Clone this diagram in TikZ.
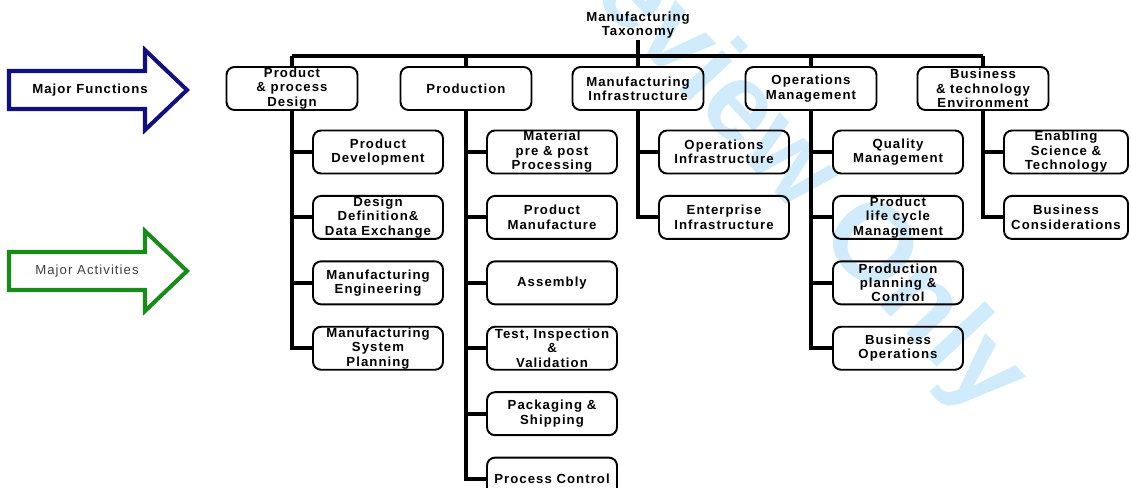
\documentclass[tikz,border=0pt]{standalone}
\usepackage{fontspec}
\setmainfont{Liberation Sans}
\newfontfamily\labelfont[LetterSpace=8]{Liberation Sans}
\usetikzlibrary{positioning}

\definecolor{funcblue}{RGB}{16,16,128}
\definecolor{actgreen}{RGB}{24,140,24}
\definecolor{markblue}{RGB}{208,236,252}

\begin{document}
\begin{tikzpicture}[x=0.02cm, y=-0.02cm,
        box/.style={draw, line width=1.1pt, rounded corners=0.16cm, align=center,
            inner sep=0.5pt, font=\labelfont\bfseries\fontsize{7.5}{8.2}\selectfont},
        head/.style={box, minimum width=2.62cm, minimum height=0.86cm},
        leaf/.style={box, minimum width=2.6cm, minimum height=0.86cm},
        wire/.style={line width=2.3pt},
        bigarrow/.style={line width=2.3pt, line join=miter}]
    \useasboundingbox (0,0) rectangle (1131,487);
    \clip (0,0) rectangle (1131,487);

    % watermark
    \node[rotate=-47, anchor=base east, inner sep=0, text=markblue,
        font=\bfseries\fontsize{63}{63}\selectfont] (mark) at (985,418) {Review Only};

    % side arrows
    \draw[bigarrow, draw=funcblue] (9,71) -- (145,71) -- (145,50) -- (187,90)
        -- (145,130) -- (145,109) -- (9,109) -- cycle;
    \node[font=\labelfont\bfseries\fontsize{7.5}{8}\selectfont] (func) at (90,90) {Major Functions};
    \draw[bigarrow, draw=actgreen] (9,252) -- (145,252) -- (145,231) -- (187,271)
        -- (145,311) -- (145,290) -- (9,290) -- cycle;
    \node[font=\labelfont\fontsize{7.5}{8}\selectfont, text=black!75] (act) at (87,271) {Major Activities};

    % root
    \node[font=\labelfont\bfseries\fontsize{7.5}{8}\selectfont, align=center, inner sep=1pt]
        (title) at (638,25) {Manufacturing\\Taxonomy};
    \coordinate (bus) at (638,56);

    % major functions
    \node[head] (design) at (292,88.5) {Product\\\& process\\Design};
    \node[head] (prod)   at (466,88.5) {Production};
    \node[head] (infra)  at (638,88.5) {Manufacturing\\Infrastructure};
    \node[head] (ops)    at (811,88.5) {Operations\\Management};
    \node[head] (env)    at (983,88.5) {Business\\\& technology\\Environment};

    % major activities
    \node[leaf] (dev)  at (378,152) {Product\\Development};
    \node[leaf, below=0.41cm of dev] (ddx)  {Design\\Definition\&\\Data Exchange};
    \node[leaf, below=0.41cm of ddx] (eng)  {Manufacturing\\Engineering};
    \node[leaf, below=0.41cm of eng] (plan) {Manufacturing\\System\\Planning};

    \node[leaf] (mat)  at (552,152) {Material\\pre \& post\\Processing};
    \node[leaf, below=0.41cm of mat]  (manu) {Product\\Manufacture};
    \node[leaf, below=0.41cm of manu] (asm)  {Assembly};
    \node[leaf, below=0.41cm of asm]  (test) {Test, Inspection\\\&\\Validation};
    \node[leaf, below=0.41cm of test] (pack) {Packaging \&\\Shipping};
    \node[leaf, below=0.41cm of pack] (ctrl) {Process Control};

    \node[leaf] (opinf) at (724,152) {Operations\\Infrastructure};
    \node[leaf, below=0.41cm of opinf] (ent) {Enterprise\\Infrastructure};

    \node[leaf] (qual) at (898,152) {Quality\\Management};
    \node[leaf, below=0.41cm of qual] (plm)    {Product\\life cycle\\Management};
    \node[leaf, below=0.41cm of plm]  (ppc)    {Production\\planning \&\\Control};
    \node[leaf, below=0.41cm of ppc]  (busops) {Business\\Operations};

    \node[leaf, minimum width=2.48cm] (sci) at (1066,152) {Enabling\\Science \&\\Technology};
    \node[leaf, minimum width=2.48cm, below=0.41cm of sci] (cons) {Business\\Considerations};

    % tree lines
    \draw[wire] (title.south) -- (title.south |- bus);
    \draw[wire] (design.north |- bus) -- (env.north |- bus);
    \foreach \h in {design, prod, infra, ops, env}
        \draw[wire] (\h.north |- bus) -- (\h.north);
    \foreach \h/\c in {design/plan, prod/ctrl, infra/ent, ops/busops, env/cons}
        \draw[wire] (\h.south) |- (\c.west);
    \foreach \c/\h in {dev/design, ddx/design, eng/design, mat/prod, manu/prod,
            asm/prod, test/prod, pack/prod, opinf/infra, qual/ops, plm/ops, ppc/ops, sci/env}
        \draw[wire] (\h.south |- \c.west) -- (\c.west);
\end{tikzpicture}
\end{document}
